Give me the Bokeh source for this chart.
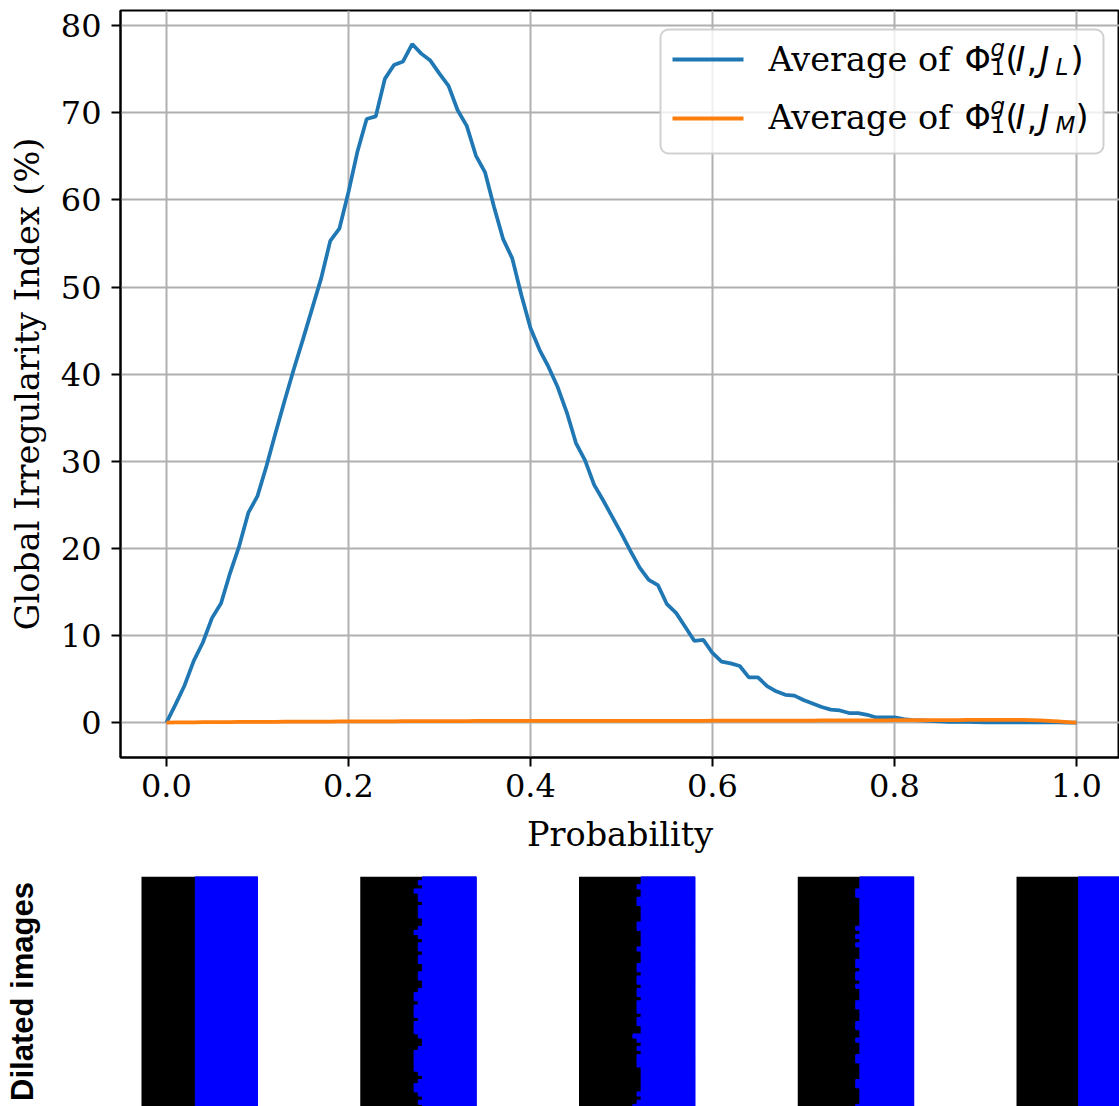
import numpy as np
from bokeh.plotting import figure
from bokeh.models import Label, BoxAnnotation, FixedTicker, Range1d, PrintfTickFormatter, ColumnDataSource
from bokeh.layouts import column
from bokeh.embed import file_html
from bokeh.resources import INLINE

# ---------------- data ----------------
probability = [0.00, 0.01, 0.02, 0.03, 0.04, 0.05, 0.06, 0.07, 0.08, 0.09,
               0.10, 0.11, 0.12, 0.13, 0.14, 0.15, 0.16, 0.17, 0.18, 0.19,
               0.20, 0.21, 0.22, 0.23, 0.24, 0.25, 0.26, 0.27, 0.28, 0.29,
               0.30, 0.31, 0.32, 0.33, 0.34, 0.35, 0.36, 0.37, 0.38, 0.39,
               0.40, 0.41, 0.42, 0.43, 0.44, 0.45, 0.46, 0.47, 0.48, 0.49,
               0.50, 0.51, 0.52, 0.53, 0.54, 0.55, 0.56, 0.57, 0.58, 0.59,
               0.60, 0.61, 0.62, 0.63, 0.64, 0.65, 0.66, 0.67, 0.68, 0.69,
               0.70, 0.71, 0.72, 0.73, 0.74, 0.75, 0.76, 0.77, 0.78, 0.79,
               0.80, 0.81, 0.82, 0.83, 0.84, 0.85, 0.86, 0.87, 0.88, 0.89,
               0.90, 0.91, 0.92, 0.93, 0.94, 0.95, 0.96, 0.97, 0.98, 0.99, 1.00]

avg_phi_JL = [0.0, 2.1, 4.3, 7.1, 9.2, 12.0, 13.7, 17.2, 20.3, 24.1,
              26.0, 29.5, 33.3, 37.0, 40.6, 44.0, 47.5, 51.0, 55.3, 56.7,
              60.9, 65.6, 69.3, 69.6, 73.9, 75.5, 75.9, 77.9, 76.8, 76.0,
              74.5, 73.1, 70.3, 68.5, 65.1, 63.2, 59.2, 55.5, 53.3, 49.1,
              45.3, 42.8, 40.8, 38.5, 35.6, 32.1, 30.1, 27.3, 25.5, 23.6,
              21.7, 19.7, 17.8, 16.4, 15.8, 13.6, 12.6, 11.0, 9.4, 9.5,
              8.0, 7.0, 6.8, 6.5, 5.2, 5.2, 4.2, 3.6, 3.2, 3.1,
              2.6, 2.2, 1.8, 1.5, 1.4, 1.1, 1.1, 0.9, 0.6, 0.6,
              0.6, 0.4, 0.3, 0.25, 0.2, 0.15, 0.1, 0.1, 0.08, 0.05,
              0.03, 0.03, 0.03, 0.03, 0.03, 0.03, 0.03, 0.03, 0.02, 0.01, 0.0]

avg_phi_JM = [0.0, 0.02, 0.03, 0.04, 0.05, 0.05, 0.06, 0.07, 0.08, 0.08,
              0.09, 0.10, 0.10, 0.11, 0.11, 0.12, 0.12, 0.13, 0.13, 0.14,
              0.15, 0.15, 0.15, 0.16, 0.16, 0.16, 0.17, 0.17, 0.17, 0.18,
              0.18, 0.18, 0.18, 0.18, 0.19, 0.19, 0.19, 0.19, 0.19, 0.19,
              0.20, 0.20, 0.20, 0.20, 0.20, 0.20, 0.20, 0.20, 0.20, 0.20,
              0.20, 0.20, 0.21, 0.21, 0.21, 0.21, 0.21, 0.21, 0.21, 0.21,
              0.22, 0.22, 0.22, 0.22, 0.22, 0.22, 0.23, 0.23, 0.23, 0.24,
              0.24, 0.24, 0.25, 0.25, 0.25, 0.26, 0.26, 0.26, 0.27, 0.27,
              0.28, 0.28, 0.28, 0.29, 0.29, 0.30, 0.30, 0.30, 0.31, 0.31,
              0.32, 0.32, 0.33, 0.33, 0.32, 0.30, 0.26, 0.20, 0.14, 0.07, 0.0]

x_ticks = [0.0, 0.2, 0.4, 0.6, 0.8, 1.0]
y_ticks = [0, 10, 20, 30, 40, 50, 60, 70, 80]
x_label = "Probability"
y_label = "Global Irregularity Index (%)"
series_names = ["J_L", "J_M"]
row_title = "Dilated images"

# number of black columns in each row (top to bottom) of the five dilated images (28 columns wide)
image_width_px = 28
boundary_1 = [13] * 56
boundary_2 = [15, 14, 15, 13, 14, 14, 15, 14, 14, 14, 15, 15, 14, 13, 14, 15, 14, 14, 15, 14,
              14, 15, 15, 14, 14, 15, 15, 14, 13, 13, 14, 13, 13, 13, 14, 13, 13, 13, 14, 15,
              15, 14, 13, 13, 13, 13, 13, 14, 15, 14, 13, 13, 14, 15, 14, 15]
boundary_3 = [15, 15, 14, 15, 15, 14, 14, 15, 15, 15, 15, 14, 14, 15, 15, 15, 15, 14, 15, 15,
              15, 14, 14, 15, 14, 14, 15, 14, 14, 15, 14, 14, 14, 15, 14, 14, 15, 15, 13, 14,
              15, 14, 15, 14, 14, 14, 15, 15, 15, 15, 15, 15, 14, 15, 14, 13]
boundary_4 = [15, 15, 15, 14, 14, 15, 15, 15, 15, 15, 15, 15, 14, 15, 14, 15, 14, 15, 15, 15,
              14, 14, 15, 14, 14, 15, 14, 15, 15, 15, 14, 14, 15, 15, 15, 14, 14, 15, 15, 14,
              15, 15, 15, 14, 14, 15, 15, 15, 15, 14, 14, 15, 15, 15, 15, 14]
boundary_5 = [15] * 56
images = [boundary_1, boundary_2, boundary_3, boundary_4, boundary_5]

BLUE = "#1f77b4"
ORANGE = "#ff7f0e"
SERIF = "DejaVu Serif"
MATH = "DejaVu Sans"

W = 1119
FL, FT, FB = 120, 10, 757      # frame left / top / bottom in page pixels
H1 = 876
H2 = 1106 - H1

# ---------------- main chart ----------------
p = figure(width=W, height=H1, x_range=Range1d(-0.0505, 1.0473), y_range=Range1d(-4.0, 81.75),
           output_backend="svg", toolbar_location=None,
           min_border_left=FL, min_border_right=0, min_border_top=FT, min_border_bottom=H1 - FB)
p.background_fill_color = "white"
p.border_fill_color = "white"
p.outline_line_color = "black"
p.outline_line_width = 2

p.grid.grid_line_color = "#b0b0b0"
p.grid.grid_line_width = 2

p.line(probability, avg_phi_JL, line_color=BLUE, line_width=3.75)
p.line(probability, avg_phi_JM, line_color=ORANGE, line_width=3.75)

p.xaxis.ticker = FixedTicker(ticks=x_ticks)
p.xaxis.formatter = PrintfTickFormatter(format="%.1f")
p.yaxis.ticker = FixedTicker(ticks=y_ticks)
p.xaxis.axis_label = x_label
p.yaxis.axis_label = y_label
for ax in (p.xaxis, p.yaxis):
    ax.axis_line_color = "black"
    ax.axis_line_width = 2
    ax.major_tick_line_width = 2
    ax.major_tick_out = 9
    ax.major_tick_in = 0
    ax.minor_tick_out = 0
    ax.minor_tick_in = 0
    ax.major_label_text_font = SERIF
    ax.major_label_text_font_size = "32px"
    ax.major_label_text_color = "black"
    ax.axis_label_text_font = SERIF
    ax.axis_label_text_font_size = "33.5px"
    ax.axis_label_text_font_style = "normal"
    ax.axis_label_text_color = "black"
p.xaxis.major_label_standoff = 7
p.xaxis.axis_label_standoff = 15
p.yaxis.major_label_standoff = 10
p.yaxis.axis_label_standoff = 11

# ---- legend (screen units are relative to the plot frame)
def sx(px):
    return px - FL
def sy(py):
    return FB - py

p.add_layout(BoxAnnotation(left=sx(660), right=sx(1103), top=sy(29), bottom=sy(153),
                           left_units="screen", right_units="screen", top_units="screen", bottom_units="screen",
                           fill_color="white", fill_alpha=0.8, line_color="#cccccc", line_width=2,
                           line_alpha=0.9, border_radius=8, level="overlay"))
for color, yc in ((BLUE, 59), (ORANGE, 118)):
    p.add_layout(BoxAnnotation(left=sx(672), right=sx(743), top=sy(yc - 2), bottom=sy(yc + 2),
                               left_units="screen", right_units="screen", top_units="screen", bottom_units="screen",
                               fill_color=color, fill_alpha=1, line_color=None, level="overlay"))

def lab(text, px, py, font=SERIF, size="33.5px", style="normal"):
    p.add_layout(Label(x=sx(px), y=sy(py), x_units="screen", y_units="screen", text=text,
                       text_font=font, text_font_size=size, text_font_style=style,
                       text_color="black", text_baseline="alphabetic", text_align="left", level="overlay"))

for row, (name, base) in enumerate(zip(series_names, (59, 117))):
    sub = name.split("_")[1]
    lab("Average of", 768, base)
    lab("\u03a6", 964, base, font=MATH)
    lab("g", 990, base - 12, font=MATH, size="23px", style="italic")
    lab("1", 990, base + 7, font=MATH, size="23px")
    lab("(", 1005, base, font=MATH)
    lab("I", 1015, base, font=MATH, style="italic")
    lab(",", 1026, base, font=MATH)
    lab("J", 1039, base, font=MATH, style="italic")
    lab(sub, 1055, base + 7, font=MATH, size="23px", style="italic")
    lab(")", 1070 if sub == "L" else 1075, base, font=MATH)

# ---------------- image row ----------------
q = figure(width=W, height=H2, x_range=Range1d(FL, W), y_range=Range1d(0, H2),
           output_backend="svg", toolbar_location=None,
           min_border_left=FL, min_border_right=0, min_border_top=0, min_border_bottom=0,
           x_axis_location=None, y_axis_location="left")
q.grid.visible = False
q.outline_line_color = None
q.background_fill_color = "white"
q.border_fill_color = "white"

# the row title is drawn as the (tick-less) left axis label of the image row
q.yaxis.ticker = FixedTicker(ticks=[])
q.yaxis.axis_line_color = None
q.yaxis.major_tick_line_color = None
q.yaxis.minor_tick_line_color = None
q.yaxis.major_tick_out = 0
q.yaxis.major_tick_in = 0
q.yaxis.minor_tick_out = 0
q.yaxis.minor_tick_in = 0
q.yaxis.major_label_standoff = 0
q.yaxis.major_label_text_font_size = "1px"
q.yaxis.axis_label = row_title
q.yaxis.axis_label_text_font = "Liberation Sans"
q.yaxis.axis_label_text_font_style = "bold"
q.yaxis.axis_label_text_font_size = "31px"
q.yaxis.axis_label_text_color = "black"
q.yaxis.axis_label_standoff = 81

img_left0, img_step, img_w, img_top = 141, 218.75, 116, H2
cell = img_w / image_width_px
base_q = dict(left=[], right=[], top=[], bottom=[])
blue_q = dict(left=[], right=[], top=[], bottom=[])
for i, b in enumerate(images):
    left = img_left0 + i * img_step
    n = len(b)
    base_q["left"].append(left); base_q["right"].append(left + img_w)
    base_q["top"].append(img_top); base_q["bottom"].append(img_top - n * cell)
    r = 0
    while r < n:
        r2 = r
        while r2 + 1 < n and b[r2 + 1] == b[r]:
            r2 += 1
        blue_q["left"].append(left + b[r] * cell); blue_q["right"].append(left + img_w)
        blue_q["top"].append(img_top - r * cell); blue_q["bottom"].append(img_top - (r2 + 1) * cell)
        r = r2 + 1
q.quad(left="left", right="right", top="top", bottom="bottom", fill_color="black", line_color=None,
       source=ColumnDataSource(base_q))
q.quad(left="left", right="right", top="top", bottom="bottom", fill_color="#0000ff", line_color="#0000ff",
       line_width=1, source=ColumnDataSource(blue_q))

layout = column(p, q, spacing=0)
open("out.html", "w").write(file_html(layout, INLINE))
